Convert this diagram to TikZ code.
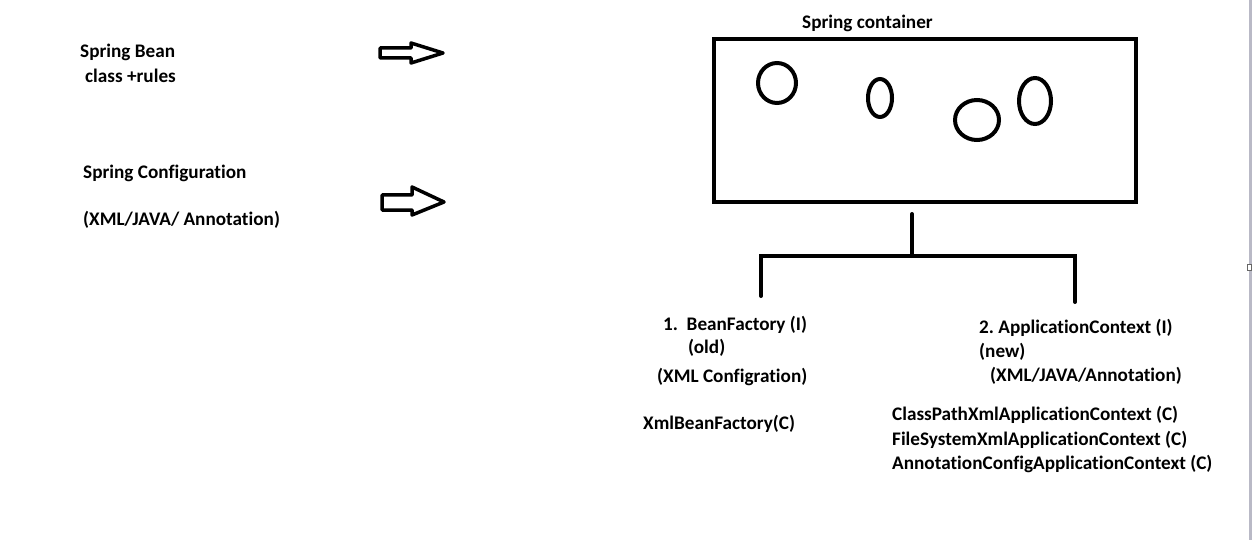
\documentclass[tikz, border = 0pt]{standalone}
\usepackage{fontspec}
\setmainfont{Carlito}[Ligatures = NoCommon]
\frenchspacing

\tikzset{
	label text/.style = {anchor = west, inner sep = 0, yshift = -1.5 pt, font = \fontsize{19.2}{22}\selectfont\bfseries},
	block arrow/.style = {line width = 3.5 pt, line join = round},
	bean/.style = {line width = 4 pt},
	tree/.style = {line width = 4 pt, line cap = round}
}

\begin{document}
\begin{tikzpicture}[x = 1 pt, y = -1 pt]

	\useasboundingbox [fill = white] (0, 0) rectangle (1252, 540);

	% Window edge
	
	\draw [line width = 3 pt, color = blue!10!gray!50] (1250, 0) -- (1250, 540);
	\draw [line width = 0.8 pt, color = gray!80!black, fill = white] (1247, 264) rectangle (1251, 270);

	% Inputs
	
	\node [label text] (bean) at (80, 51) {Spring Bean};
	\node [label text] (rules) at (85, 74) {class +rules};
	
	\node [label text] (config) at (83, 172) {Spring Configuration};
	\node [label text] (configkinds) at (83, 218) {(XML/JAVA/ Annotation)};

	% Arrows
	
	\draw [block arrow] (380, 48) -- (411, 48) -- (411, 43) -- (443, 53)
		-- (411, 63) -- (411, 58) -- (380, 58) -- cycle;
		
	\draw [block arrow] (382, 195) -- (412, 195) -- (412, 187) -- (444, 202)
		-- (412, 215) -- (412, 210) -- (382, 210) -- cycle;

	% Container
	
	\node [label text] (title) at (802, 22) {Spring container};
	\node [draw, line width = 4.5 pt, inner sep = 0, minimum width = 422 pt, minimum height = 163 pt]
		(container) at (925, 120.5) {};

	% Beans
	
	\draw [bean] (777, 83) ellipse (19 and 20);
	\draw [bean] (880, 98) ellipse (12 and 19);
	\draw [bean] (977, 120) ellipse (22 and 20);
	\draw [bean] (1035, 101) ellipse (16 and 23);

	% Tree
	
	\coordinate (stem) at (912, 214);
	\coordinate (fork) at (912, 256);
	\coordinate (bfleg) at (761, 296);
	\coordinate (acleg) at (1075, 302);
	
	\draw [tree] (stem) -- (fork);
	\draw [tree] (bfleg) |- (fork) -| (acleg);

	% BeanFactory
	
	\node [label text] (bf) at (663, 323) {1.\ \ BeanFactory (I)};
	\node [label text] (bfold) at (688, 346) {(old)};
	\node [label text] (bfxml) at (657, 375) {(XML Configration)};
	\node [label text] (xmlbf) at (643, 422) {XmlBeanFactory(C)};

	% ApplicationContext
	
	\node [label text] (ac) at (979, 326) {2. ApplicationContext (I)};
	\node [label text] (acnew) at (979, 350) {(new)};
	\node [label text] (acxml) at (990, 374) {(XML/JAVA/Annotation)};
	\node [label text] (cpx) at (892, 413) {ClassPathXmlApplicationContext (C)};
	\node [label text] (fsx) at (892, 438) {FileSystemXmlApplicationContext (C)};
	\node [label text] (acac) at (892, 462) {AnnotationConfigApplicationContext (C)};

\end{tikzpicture}
\end{document}
